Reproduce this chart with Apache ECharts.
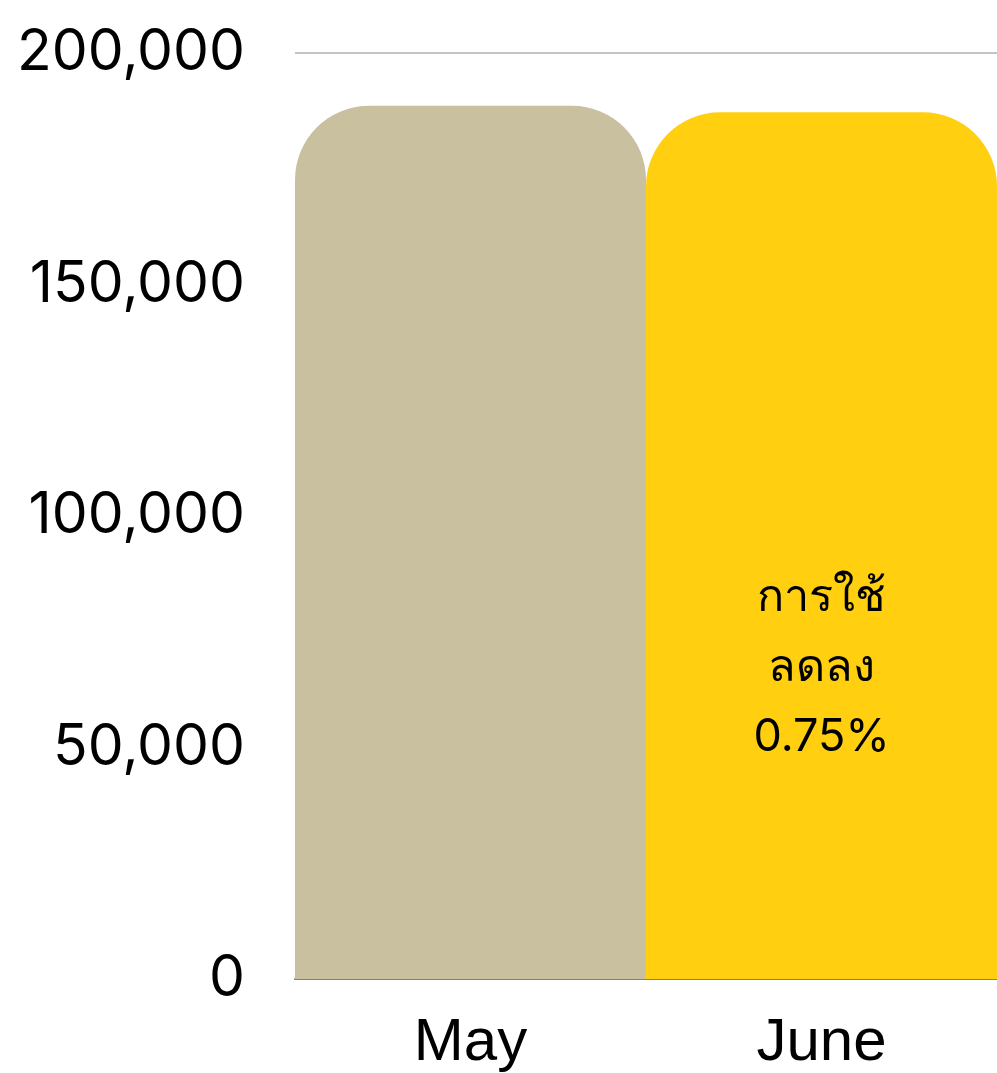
<!DOCTYPE html>
<html>
<head>
<meta charset="utf-8">
<script src="https://cdn.jsdelivr.net/npm/echarts@6/dist/echarts.min.js"></script>
<style>
  html, body { margin: 0; padding: 0; background: #fff; }
  #chart { width: 997px; height: 1073px; }
</style>
</head>
<body>
<div id="chart"></div>
<script>
// Chart data
const months = ['May', 'June'];
const usage = [188600, 187200];
const barColors = ['#C9C09F', '#FFCF10'];
const juneNote = 'การใช้\nลดลง\n0.75%';

const chart = echarts.init(document.getElementById('chart'));

const numFont = 'Inter, "Noto Sans", sans-serif';
const monthFont = '"Liberation Sans", Arial, sans-serif';

chart.setOption({
  animation: false,
  grid: { left: 295, right: 0, top: 53, bottom: 93 },
  xAxis: {
    type: 'category',
    data: months,
    axisLine: { lineStyle: { color: '#808080', width: 2 } },
    axisTick: { show: false },
    axisLabel: {
      color: '#000',
      fontSize: 60,
      fontFamily: monthFont,
      margin: 34
    }
  },
  yAxis: {
    type: 'value',
    min: 0,
    max: 200000,
    interval: 50000,
    axisLine: { show: false },
    axisTick: { show: false },
    splitLine: { lineStyle: { color: '#C4C4C4', width: 2 } },
    axisLabel: {
      color: '#000',
      fontSize: 57,
      fontFamily: numFont,
      margin: 50,
      formatter: v => v.toLocaleString('en-US')
    }
  },
  series: [{
    type: 'bar',
    barWidth: '100%',
    barGap: 0,
    data: usage.map((v, i) => ({
      value: v,
      itemStyle: { color: barColors[i], borderRadius: [74, 74, 0, 0] },
      label: i === 1 ? {
        show: true,
        formatter: juneNote,
        position: ['50%', 555],
        align: 'center',
        verticalAlign: 'middle',
        color: '#000',
        fontSize: 45,
        lineHeight: 70,
        fontFamily: numFont
      } : { show: false }
    }))
  }]
});

window.addEventListener('resize', () => chart.resize());
</script>
</body>
</html>
